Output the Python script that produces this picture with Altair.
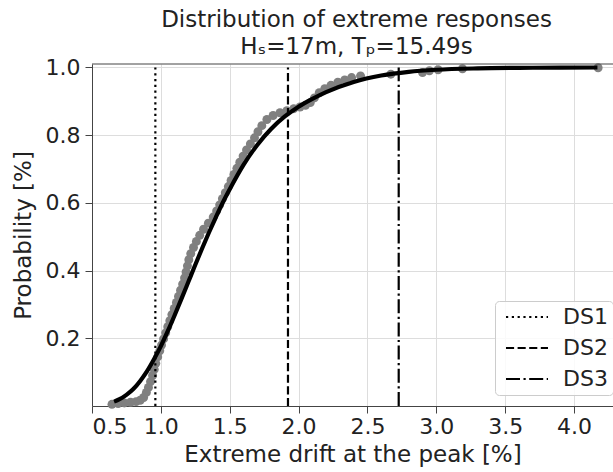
import altair as alt
import pandas as pd

FONT = "DejaVu Sans"

# Empirical (gray) sample points: extreme drift [%] and probability
sample_x = [0.645, 0.690, 0.735, 0.780, 0.820, 0.850, 0.875, 0.895, 0.910, 0.925,
            0.940, 0.952, 0.963, 0.977, 0.992, 1.005, 1.020, 1.035, 1.050, 1.065,
            1.080, 1.097, 1.113, 1.128, 1.143, 1.158, 1.172, 1.183, 1.193, 1.203,
            1.217, 1.237, 1.258, 1.282, 1.310, 1.345, 1.380, 1.405, 1.427, 1.447,
            1.468, 1.490, 1.510, 1.530, 1.552, 1.573, 1.597, 1.622, 1.650, 1.680,
            1.705, 1.733, 1.770, 1.815, 1.865, 1.915, 1.965, 2.010, 2.050, 2.085,
            2.115, 2.150, 2.190, 2.235, 2.285, 2.335, 2.385, 2.450, 2.670, 2.900,
            2.950, 3.013, 3.190, 4.175]
sample_p = [0.005, 0.007, 0.009, 0.011, 0.013, 0.017, 0.025, 0.040, 0.055, 0.072,
            0.090, 0.108, 0.126, 0.145, 0.163, 0.180, 0.198, 0.216, 0.234, 0.252,
            0.270, 0.288, 0.306, 0.324, 0.342, 0.360, 0.378, 0.396, 0.414, 0.432,
            0.450, 0.468, 0.486, 0.504, 0.522, 0.540, 0.558, 0.576, 0.594, 0.612,
            0.630, 0.648, 0.666, 0.684, 0.702, 0.720, 0.738, 0.756, 0.774, 0.792,
            0.810, 0.828, 0.846, 0.858, 0.866, 0.872, 0.878, 0.883, 0.888, 0.896,
            0.910, 0.925, 0.937, 0.947, 0.956, 0.963, 0.970, 0.975, 0.980, 0.985,
            0.990, 0.993, 0.996, 0.999]

# Fitted distribution (black curve)
fit_x = [0.66, 0.70, 0.75, 0.80, 0.85, 0.90, 0.95, 1.00, 1.05, 1.10, 1.15, 1.20,
         1.25, 1.30, 1.35, 1.40, 1.45, 1.50, 1.60, 1.70, 1.80, 1.90, 2.00, 2.10,
         2.20, 2.40, 2.60, 2.80, 3.00, 3.30, 3.60, 3.90, 4.17]
fit_p = [0.013, 0.020, 0.033, 0.050, 0.074, 0.103, 0.138, 0.177, 0.221, 0.268,
         0.317, 0.367, 0.417, 0.466, 0.513, 0.558, 0.601, 0.640, 0.712, 0.771,
         0.818, 0.855, 0.884, 0.907, 0.927, 0.957, 0.976, 0.987, 0.993, 0.997,
         0.9986, 0.9994, 0.9997]

# Damage-state thresholds
ds_labels = ["DS1", "DS2", "DS3"]
ds_values = [0.96, 1.923, 2.727]
ds_dashes = [[2.2, 3.6], [8.1, 3.5], [14, 3.5, 2.2, 3.5]]

x_ticks = [0.5, 1.0, 1.5, 2.0, 2.5, 3.0, 3.5, 4.0]
y_ticks = [0.2, 0.4, 0.6, 0.8, 1.0]

W, H = 521, 342

df_pts = pd.DataFrame({"x": sample_x, "p": sample_p})
df_fit = pd.DataFrame({"x": fit_x, "p": fit_p})
df_ds = pd.DataFrame({"x": ds_values, "label": ds_labels,
                      "y0": [0.0] * len(ds_values), "y1": [1.0] * len(ds_values)})

x_scale = alt.Scale(domain=[0.5, 4.283], nice=False, zero=False)
y_scale = alt.Scale(domain=[0.0, 1.01], nice=False, zero=False)

x_axis = alt.Axis(values=x_ticks, format=".1f", title="Extreme drift at the peak [%]",
                  labelPadding=3, titlePadding=6)
y_axis = alt.Axis(values=y_ticks, format=".1f", title="Probability [%]",
                  labelPadding=5, titlePadding=10)

points = alt.Chart(df_pts).mark_circle(size=80, color="#808080", opacity=1).encode(
    x=alt.X("x:Q", scale=x_scale, axis=x_axis),
    y=alt.Y("p:Q", scale=y_scale, axis=y_axis),
)

fit = alt.Chart(df_fit).mark_line(color="black", strokeWidth=4.2,
                                  interpolate="monotone").encode(
    x=alt.X("x:Q", scale=x_scale),
    y=alt.Y("p:Q", scale=y_scale),
)

rules = alt.Chart(df_ds).mark_rule(color="black", strokeWidth=2.2).encode(
    x=alt.X("x:Q", scale=x_scale),
    y=alt.Y("y0:Q", scale=y_scale),
    y2="y1:Q",
    strokeDash=alt.StrokeDash(
        "label:N",
        scale=alt.Scale(domain=ds_labels, range=ds_dashes),
        legend=alt.Legend(
            title=None, orient="none", legendX=403, legendY=237,
            direction="vertical", symbolType="M-3,0H3", symbolSize=196,
            symbolStrokeWidth=2.2, symbolStrokeColor="black",
            symbolOffset=16, labelOffset=25,
            labelFont=FONT, labelFontSize=22, labelColor="#222",
            padding=5, rowPadding=9,
            fillColor="rgba(255,255,255,0.85)", strokeColor="#cccccc",
            cornerRadius=4,
        ),
    ),
)

top_spine = alt.Chart(pd.DataFrame({"a": [0]})).mark_rule(
    color="#444444", strokeWidth=1).encode(
    x=alt.value(0), x2=alt.value(W), y=alt.value(0))

chart = alt.layer(points, fit, rules, top_spine).properties(
    width=W, height=H,
    autosize=alt.AutoSizeParams(type="none"),
    padding={"left": 92, "top": 64, "right": 0, "bottom": 66},
    title=alt.TitleParams(
        text=["Distribution of extreme responses", "Hₛ=17m, Tₚ=15.49s"],
        font=FONT, fontSize=23, fontWeight="normal", color="#222",
        anchor="middle", lineHeight=27, offset=4, dx=4, dy=7,
    ),
).configure_view(stroke=None).configure_axis(
    labelFont=FONT, labelFontSize=22, labelColor="#222",
    titleFont=FONT, titleFontSize=23, titleFontWeight="normal", titleColor="#222",
    tickSize=7, tickColor="#444444", domainColor="#444444",
    gridColor="#dddddd", gridWidth=1,
)

chart.save("out.html", embed_options={"renderer": "svg", "actions": False})
